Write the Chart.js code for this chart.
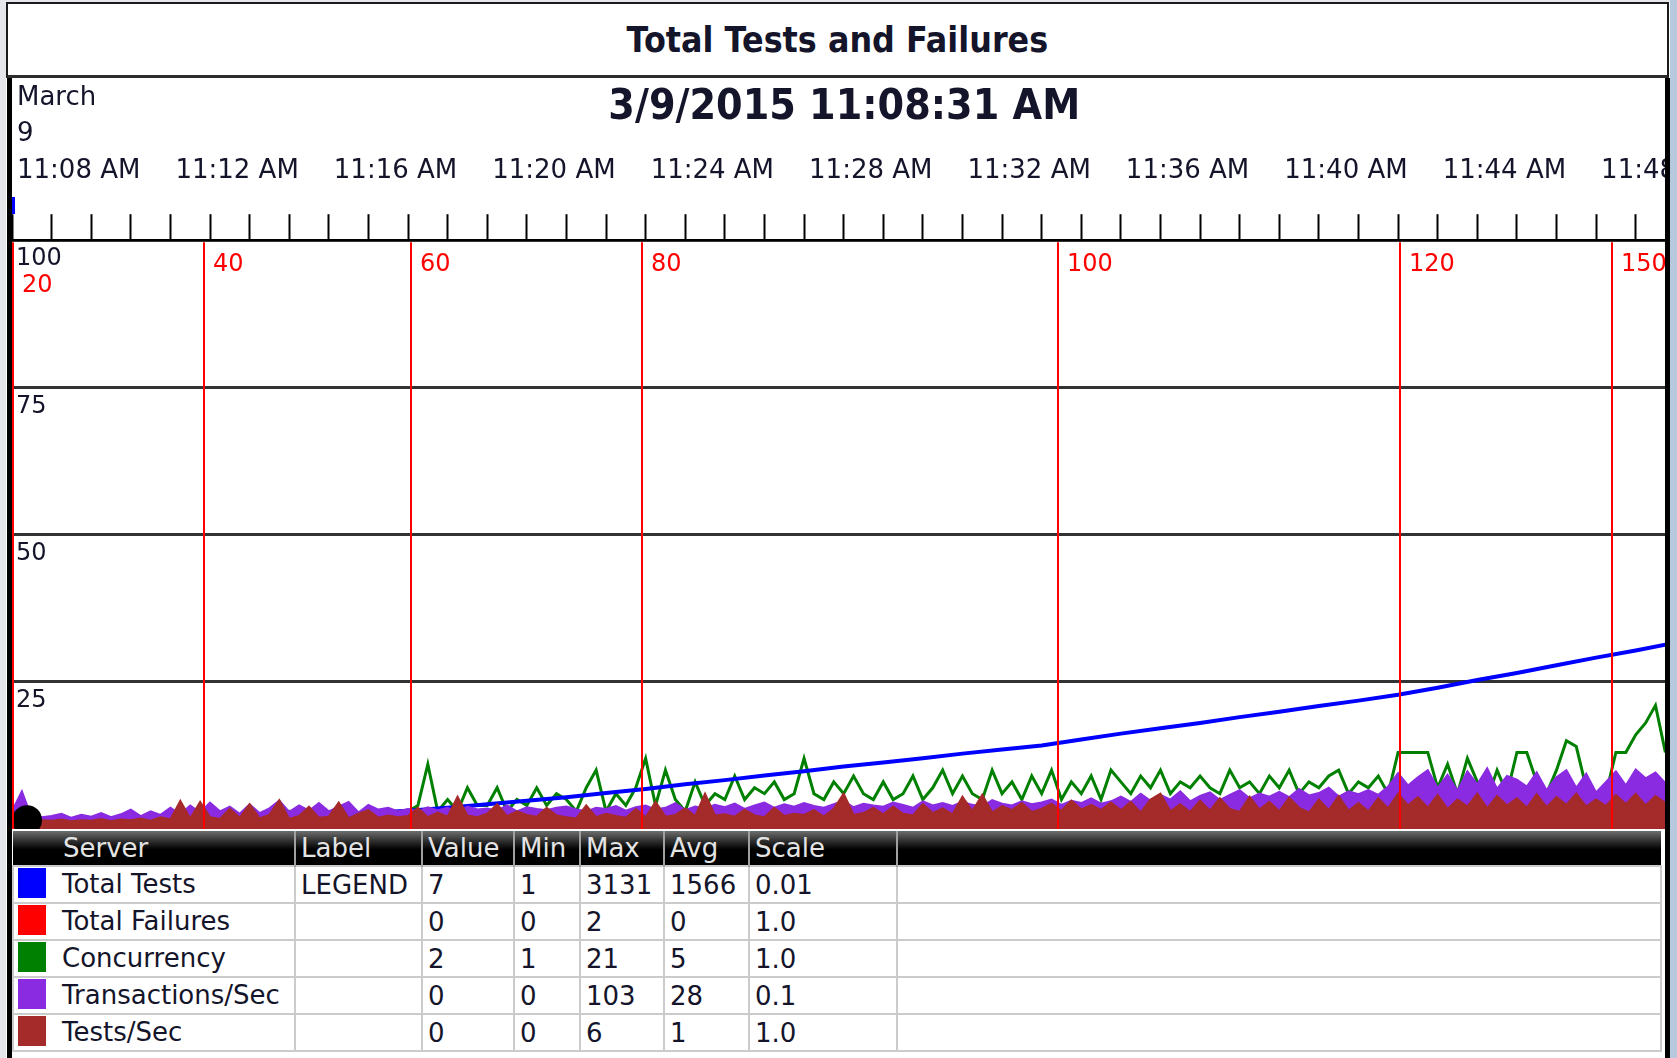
<!DOCTYPE html>
<html>
<head>
<meta charset="utf-8">
<title>Total Tests and Failures</title>
<script src="https://cdn.jsdelivr.net/npm/chart.js@4.4.1/dist/chart.umd.min.js"></script>
<style>
  html, body { margin:0; padding:0; }
  body { width:1677px; height:1058px; position:relative; overflow:hidden; background:#e4e6e9; font-family:"DejaVu Sans", sans-serif; color:#14142a; }
  #panel { position:absolute; left:6px; top:2px; width:1664px; height:1056px; background:#fff; }
  #rstrip { position:absolute; left:1670px; top:0; width:7px; height:1058px; background:#b9c9dd; }
  #titlebar { position:absolute; left:6px; top:2px; width:1659px; height:71px; border:2px solid #1a1a1a; border-bottom:3px solid #2c2c2c; background:#fff; z-index:3; }
  #title { position:absolute; left:0; right:0; top:0; height:72px; line-height:72px; text-align:center; }
  #title span { display:inline-block; font-weight:bold; font-size:36px; transform:scaleX(0.885); transform-origin:50% 50%; }
  #lbar { position:absolute; left:7px; top:78px; width:5px; height:980px; background:#000; z-index:5; }
  #rbar { position:absolute; left:1665px; top:78px; width:5px; height:980px; background:#000; z-index:5; }
  #chartbox { position:absolute; left:4px; top:55px; width:1661px; height:774px; z-index:2; }
  #date { position:absolute; left:12px; width:1664px; top:82px; height:46px; line-height:46px; text-align:center; z-index:4; }
  #date span { display:inline-block; font-weight:bold; font-size:42px; transform:scaleX(0.91); transform-origin:50% 50%; }
  #cursor { position:absolute; left:12px; top:197px; width:3px; height:17px; background:#0000ff; z-index:6; }
  #legend { position:absolute; left:12px; top:831px; z-index:4; border-collapse:collapse; table-layout:fixed; width:1648px; font-size:26px; }
  #legend th { height:34px; padding:0 0 0 5px; text-align:left; font-weight:normal; color:#e4e4e4; background:linear-gradient(#6e6e6e 0%, #2e2e2e 30%, #000 55%, #000 100%); border-left:2px solid #a0a0a0; white-space:nowrap; overflow:hidden; }
  #legend th:first-child { border-left:none; padding-left:50px; }
  #legend td { height:35px; padding:0 0 0 5px; border:2px solid #cbcbcb; white-space:nowrap; overflow:hidden; background:#fff; }
  #legend td.srv { padding-left:4px; }
  #legend .sw { display:inline-block; width:28px; height:30px; vertical-align:middle; margin-right:16px; position:relative; top:-2px; }
</style>
</head>
<body>
<div id="panel"></div>
<div id="rstrip"></div>
<div id="titlebar"><div id="title"><span id="titleText"></span></div></div>
<div id="chartbox"><canvas id="cv" width="1661" height="774" style="width:1661px;height:774px;"></canvas></div>
<div id="date"><span id="dateText"></span></div>
<div id="lbar"></div>
<div id="rbar"></div>
<div id="cursor"></div>
<table id="legend"></table>
<script>
// ---------------- data ----------------
const chartTitle = 'Total Tests and Failures';
const dateTitle = '3/9/2015 11:08:31 AM';
const startLabel = ['March', '9'];
const timeLabels = ['11:08 AM','11:12 AM','11:16 AM','11:20 AM','11:24 AM','11:28 AM','11:32 AM','11:36 AM','11:40 AM','11:44 AM','11:48 AM'];
const minuteTicks = [0,1,2,3,4,5,6,7,8,9,10,11,12,13,14,15,16,17,18,19,20,21,22,23,24,25,26,27,28,29,30,31,32,33,34,35,36,37,38,39,40,41];
const labelEveryMin = 4;
const xMaxMin = 41.74;
const yTicks = [0, 25, 50, 75, 100];

const markerMinutes = [0.03, 4.86, 10.08, 15.9, 26.4, 35.06, 40.4];
const markerLabels = ['20', '40', '60', '80', '100', '120', '150'];

const seriesNames = ['Total Tests', 'Total Failures', 'Concurrency', 'Transactions/Sec', 'Tests/Sec'];
const seriesColors = ['#0000ff', '#ff0000', '#008000', '#8a2be2', '#a52a2a'];
const seriesLabel = ['LEGEND', '', '', '', ''];
const seriesValue = ['7', '0', '2', '0', '0'];
const seriesMin = ['1', '0', '1', '0', '0'];
const seriesMax = ['3131', '2', '21', '103', '6'];
const seriesAvg = ['1566', '0', '5', '28', '1'];
const seriesScale = ['0.01', '1.0', '1.0', '0.1', '1.0'];
const tableHeaders = ['Server', 'Label', 'Value', 'Min', 'Max', 'Avg', 'Scale', ''];

// cumulative counters, sampled once a minute
const countMinutes = [0,1,2,3,4,5,6,7,8,9,10,11,12,13,14,15,16,17,18,19,20,21,22,23,24,25,26,27,28,29,30,31,32,33,34,35,36,37,38,39,40,41,41.75];
const totalTests = [1,20,45,70,100,130,160,190,230,270,310,360,420,480,540,610,680,760,830,910,980,1060,1130,1200,1280,1350,1420,1520,1620,1710,1800,1900,1990,2090,2180,2280,2400,2530,2650,2780,2910,3030,3131];
const totalFailures = [0,0,0,0,0,0,0,0,0,0,0,0,0,0,0,0,0,0,0,0,0,0,0,0,0,0,0,0,0,0,0,1,0,0,0,0,0,0,2,0,0,0,0];

// rate counters, sampled every 15 s (0.25 min)
const sampleStepMin = 0.25;
const concurrency = [
  1,1,2,1,1,2,1,1,
  1,2,1,1,2,1,2,1,
  2,1,2,2,1,2,2,1,
  2,2,1,2,3,2,2,2,
  2,3,2,2,3,2,2,3,
  3,4,11,3,5,3,7,4,
  4,7,3,5,4,7,4,6,
  5,3,7,10,3,6,4,7,
  12,4,10,5,3,8,4,6,
  5,9,5,7,6,8,5,6,
  12,6,5,8,6,9,6,5,
  8,5,6,9,5,7,10,6,
  9,6,5,10,6,8,5,9,
  6,10,5,8,6,9,5,10,
  8,6,9,7,10,6,8,7,
  9,7,6,10,7,8,6,9,
  7,10,6,8,7,9,10,6,
  8,7,9,6,13,13,13,13,
  7,11,6,12,8,5,10,6,
  13,13,8,6,10,15,14,7,
  6,6,13,13,16,18,21,13
];
const transactionsPerSec = [
  30,64,18,20,22,26,19,24,
  21,27,20,25,33,22,30,24,
  36,25,40,28,45,30,38,26,
  42,27,35,48,29,40,31,44,
  30,38,46,28,41,33,36,30,
  34,30,37,32,36,29,38,33,
  35,31,40,30,37,34,32,36,
  38,33,30,36,34,39,31,37,
  40,33,36,44,32,38,35,41,
  37,43,34,40,45,36,42,38,
  44,39,36,42,48,37,43,40,
  38,45,41,36,47,40,44,39,
  46,41,38,49,43,40,47,42,
  45,50,41,48,44,52,43,47,
  55,46,60,48,58,50,64,47,
  56,62,49,58,66,52,60,55,
  63,54,68,57,61,70,55,64,
  59,66,58,72,95,74,88,100,
  70,92,65,98,76,103,68,90,
  84,72,96,66,88,100,70,94,
  62,80,98,74,101,86,96,78
];
const testsPerSec = [
  0.5,1.2,1.3,1.5,1.4,1.6,1.3,1.5,
  1.4,1.7,1.3,1.6,1.5,1.8,1.4,2.0,
  1.6,4.8,1.8,4.6,2.0,1.7,3.4,1.9,
  4.2,1.8,2.4,4.9,1.7,2.2,3.8,1.9,
  2.1,4.5,1.8,2.6,3.2,1.9,2.3,2.0,
  2.2,3.6,2.0,2.8,2.1,5.5,2.3,2.0,
  2.6,4.2,2.2,3.0,2.4,2.1,3.6,2.3,
  2.0,1.8,4.0,2.0,2.6,2.2,1.9,3.4,
  2.0,4.6,2.1,2.4,3.5,2.2,6.0,2.3,
  2.5,2.1,3.3,2.3,2.0,3.6,2.2,2.6,
  2.4,3.2,2.1,3.4,6.0,2.4,2.7,3.6,
  2.5,3.8,2.6,2.3,4.2,2.7,3.5,2.5,
  5.5,3.0,5.8,2.8,3.9,3.2,4.4,2.9,
  3.4,4.3,3.1,4.8,3.3,4.1,3.2,4.5,
  3.2,4.6,2.8,5.0,6.0,3.0,4.2,2.9,
  4.8,3.1,5.2,3.4,2.9,5.5,3.3,4.6,
  3.0,5.3,3.6,2.8,5.0,3.2,5.6,3.1,
  4.4,3.0,5.2,3.5,6.0,4.0,5.4,3.6,
  5.8,3.4,5.0,3.8,6.0,3.5,5.6,4.0,
  5.2,3.6,5.9,3.7,5.4,4.1,6.0,3.8,
  5.0,3.9,5.8,4.2,6.0,4.0,5.6,4.4
];
const startMarkerMinute = [0.38];
const startMarkerValue = [1.5];

// ---------------- page text ----------------
document.getElementById('titleText').textContent = chartTitle;
document.getElementById('dateText').textContent = dateTitle;

// ---------------- legend table ----------------
(function buildTable() {
  const t = document.getElementById('legend');
  const widths = [282, 127, 92, 66, 84, 85, 148, 764];
  const cg = document.createElement('colgroup');
  widths.forEach(w => { const c = document.createElement('col'); c.style.width = w + 'px'; cg.appendChild(c); });
  t.appendChild(cg);
  const hr = document.createElement('tr');
  tableHeaders.forEach(h => { const th = document.createElement('th'); th.textContent = h; hr.appendChild(th); });
  t.appendChild(hr);
  seriesNames.forEach((name, i) => {
    const tr = document.createElement('tr');
    const td0 = document.createElement('td');
    td0.className = 'srv';
    const sw = document.createElement('span');
    sw.className = 'sw';
    sw.style.background = seriesColors[i];
    td0.appendChild(sw);
    td0.appendChild(document.createTextNode(name));
    tr.appendChild(td0);
    [seriesLabel[i], seriesValue[i], seriesMin[i], seriesMax[i], seriesAvg[i], seriesScale[i], ''].forEach(v => {
      const td = document.createElement('td'); td.textContent = v; tr.appendChild(td);
    });
    t.appendChild(tr);
  });
})();

// ---------------- chart ----------------
Chart.defaults.font.family = '"DejaVu Sans", sans-serif';
const sc = seriesScale.map(parseFloat);
const sampled = (arr, s) => arr.map((v, i) => ({ x: i * sampleStepMin, y: v * s }));
const perMinute = (arr, s) => arr.map((v, i) => ({ x: countMinutes[i], y: v * s }));

const markerPlugin = {
  id: 'markers',
  afterDatasetsDraw(chart) {
    const { ctx, chartArea: a, scales: { x } } = chart;
    ctx.save();
    ctx.beginPath();
    ctx.rect(a.left, a.top, a.right - a.left, a.bottom - a.top);
    ctx.clip();
    ctx.strokeStyle = '#ff0000';
    ctx.lineWidth = 2;
    ctx.fillStyle = '#ff0000';
    ctx.font = '24px "DejaVu Sans"';
    ctx.textBaseline = 'middle';
    ctx.textAlign = 'left';
    markerMinutes.forEach((m, i) => {
      const px = Math.round(x.getPixelForValue(m));
      ctx.beginPath();
      ctx.moveTo(px, a.top + 2);
      ctx.lineTo(px, a.bottom);
      ctx.stroke();
      const first = px - a.left < 20;
      ctx.fillText(markerLabels[i], px + 9, a.top + (first ? 46 : 25));
    });
    ctx.restore();
  }
};

new Chart(document.getElementById('cv'), {
  type: 'line',
  data: {
    datasets: [
      { label: seriesNames[4], data: sampled(testsPerSec, sc[4]), borderColor: seriesColors[4], backgroundColor: seriesColors[4], fill: 'origin', borderWidth: 2, order: 0 },
      { label: seriesNames[3], data: sampled(transactionsPerSec, sc[3]), borderColor: seriesColors[3], backgroundColor: seriesColors[3], fill: 'origin', borderWidth: 2, order: 1 },
      { label: seriesNames[0], data: perMinute(totalTests, sc[0]), borderColor: seriesColors[0], borderWidth: 4, fill: false, order: 2 },
      { label: seriesNames[2], data: sampled(concurrency, sc[2]), borderColor: seriesColors[2], borderWidth: 3, fill: false, order: 3 },
      { label: seriesNames[1], data: perMinute(totalFailures, sc[1]), borderColor: seriesColors[1], borderWidth: 2, fill: false, order: 4 },
      { label: 'start', data: startMarkerMinute.map((m, i) => ({ x: m, y: startMarkerValue[i] })), showLine: false, pointRadius: 15, pointBackgroundColor: '#000', pointBorderWidth: 0, order: -1, clip: 0 }
    ]
  },
  options: {
    responsive: false,
    animation: false,
    devicePixelRatio: 1,
    layout: { padding: 0, autoPadding: false },
    elements: { point: { radius: 0 }, line: { tension: 0 } },
    plugins: { legend: { display: false }, tooltip: { enabled: false }, title: { display: false } },
    scales: {
      x: {
        type: 'linear',
        position: 'top',
        min: 0,
        max: xMaxMin,
        afterBuildTicks: s => { s.ticks = minuteTicks.map(v => ({ value: v })); },
        afterFit: s => { s.paddingLeft = 0; s.paddingRight = 0; },
        ticks: {
          autoSkip: false,
          maxRotation: 0,
          minRotation: 0,
          align: 'start',
          labelOffset: 5,
          padding: 25,
          color: '#14142a',
          font: { size: 26, lineHeight: 1.4 },
          callback: v => {
            if (v % labelEveryMin !== 0) return '';
            const lbl = timeLabels[v / labelEveryMin];
            return v === minuteTicks[0] ? startLabel.concat([lbl]) : lbl;
          }
        },
        grid: { drawOnChartArea: false, drawTicks: true, tickLength: 26, tickWidth: 2, tickColor: '#000', color: '#000' },
        border: { display: true, color: '#000', width: 2 }
      },
      y: {
        min: 0,
        max: 100,
        afterBuildTicks: s => { s.ticks = yTicks.map(v => ({ value: v })); },
        afterFit: s => { s.paddingTop = 0; s.paddingBottom = 0; },
        ticks: {
          mirror: true,
          padding: 4,
          labelOffset: 19,
          color: '#14142a',
          font: { size: 24 },
          callback: v => (v === 0 ? '' : String(v))
        },
        grid: { drawTicks: false, color: '#333', lineWidth: 3 },
        border: { display: false }
      }
    }
  },
  plugins: [markerPlugin]
});
</script>
</body>
</html>
